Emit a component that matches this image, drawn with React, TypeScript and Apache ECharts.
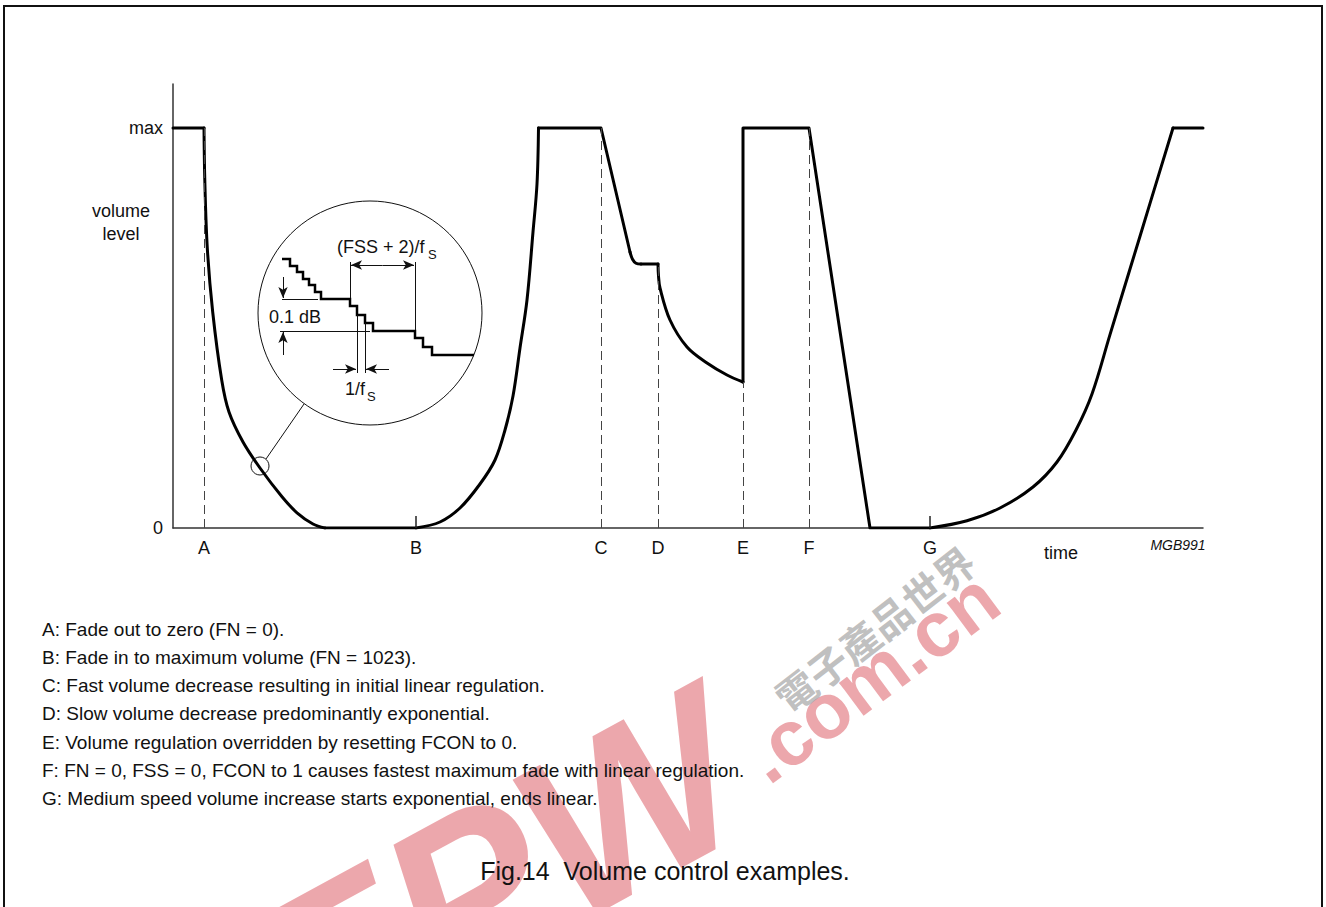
import React, { useEffect, useRef } from "react";
import * as echarts from "echarts";

const FONT = "'Liberation Sans', Arial, Helvetica, sans-serif";

// ---- main volume trace, [time, level] (level 1 = max, 0 = zero) ----
const holdMaxStart = [[0, 1], [3.1, 1]];
const fadeOutA = [[3.1, 1], [3.18, 0.87], [3.43, 0.7], [3.97, 0.54], [4.87, 0.37], [5.6, 0.29], [7.0, 0.215], [8.7, 0.15], [10.9, 0.078], [12.4, 0.038], [14.0, 0.01], [15.2, 0]];
const zeroHoldAB = [[15.2, 0], [24.3, 0]];
const fadeInB = [[24.3, 0], [26.7, 0.015], [28.7, 0.05], [30.7, 0.11], [32.2, 0.17], [33.2, 0.245], [34.0, 0.33], [34.7, 0.45], [35.4, 0.57], [36.0, 0.74], [36.4, 0.86], [36.55, 1]];
const holdMaxToC = [[36.55, 1], [42.8, 1], [45.7, 0.69]];
const kneeC = [[45.7, 0.69], [45.95, 0.672], [46.3, 0.662], [46.8, 0.66]];
const holdCD = [[46.8, 0.66], [48.5, 0.66]];
const decayD = [[48.5, 0.66], [48.55, 0.63], [48.7, 0.6], [49.7, 0.52], [51.4, 0.4525], [53.4, 0.4125], [55.4, 0.3825], [57.0, 0.365]];
const resetEFadeF = [[57.0, 0.365], [57.0, 1], [63.6, 1], [69.7, 0], [75.7, 0]];
const riseG = [[75.7, 0], [79.4, 0.018], [82.7, 0.05], [86.0, 0.1025], [88.4, 0.165], [90.3, 0.245], [91.9, 0.335], [93.7, 0.4835], [95.7, 0.6475], [97.7, 0.8115], [100.0, 1]];
const holdMaxEnd = [[100.0, 1], [103, 1]];

const traceSegments = [
  { data: holdMaxStart, smooth: false },
  { data: fadeOutA, smooth: true },
  { data: zeroHoldAB, smooth: false },
  { data: fadeInB, smooth: true },
  { data: holdMaxToC, smooth: false },
  { data: kneeC, smooth: true },
  { data: holdCD, smooth: false },
  { data: decayD, smooth: true },
  { data: resetEFadeF, smooth: false },
  { data: riseG, smooth: true },
  { data: holdMaxEnd, smooth: false },
];

// ---- event markers ----
const eventLetters = ["A", "B", "C", "D", "E", "F", "G"];
const eventTimes = [3.1, 24.3, 42.8, 48.5, 57.0, 63.6, 75.7];
const eventTops = [1, 0.03, 1, 0.66, 0.365, 1, 0.03];
const eventDashed = [true, false, true, true, true, true, false];

const yTickLabels: Record<string, string> = { "0": "0", "1": "max" };

const notes = [
  "A: Fade out to zero (FN = 0).",
  "B: Fade in to maximum volume (FN = 1023).",
  "C: Fast volume decrease resulting in initial linear regulation.",
  "D: Slow volume decrease predominantly exponential.",
  "E: Volume regulation overridden by resetting FCON to 0.",
  "F: FN = 0, FSS = 0, FCON to 1 causes fastest maximum fade with linear regulation.",
  "G: Medium speed volume increase starts exponential, ends linear.",
];

// ---- magnified inset (units of the inset box) ----
const insetStair = [[24, 58], [32, 58], [32, 65], [39, 65], [39, 71], [45, 71], [45, 78], [51, 78], [51, 84], [57, 84], [57, 91], [63, 91], [63, 98], [92, 98], [92, 105], [99, 105], [99, 114], [107, 114], [107, 122], [115, 122], [115, 130], [157, 130], [157, 137], [165, 137], [165, 146], [174, 146], [174, 154], [216, 154]];
const insetGuides = [
  [[92, 61], [92, 97]],
  [[157, 61], [157, 129]],
  [[24, 98], [60, 98]],
  [[22, 130], [112, 130]],
  [[99, 114], [99, 172]],
  [[107, 122], [107, 172]],
];
const insetArrows = [
  [[124.5, 64], [93, 64]],
  [[124.5, 64], [156, 64]],
  [[25, 76], [25, 97]],
  [[25, 154], [25, 131]],
  [[75, 168], [98, 168]],
  [[131, 168], [108, 168]],
];

function txt(text: string, x: number, y: number, size: number, align = "left", extra: any = {}) {
  return {
    type: "text",
    silent: true,
    style: {
      text,
      x,
      y,
      fill: "#111",
      font: `${extra.italic ? "italic " : ""}${size}px ${FONT}`,
      textAlign: align,
      textVerticalAlign: "middle",
    },
    z: 10,
  };
}

function mark(text: string, x: number, y: number, rot: number, font: string, fill: string, align = "left") {
  return {
    type: "text",
    silent: true,
    x,
    y,
    rotation: rot,
    z: 0,
    style: { text, x: 0, y: 0, font, fill, textAlign: align, textVerticalAlign: "bottom" },
  };
}

export default function App() {
  const ref = useRef<HTMLDivElement>(null);
  useEffect(() => {
    if (!ref.current) return;
    const chart = echarts.init(ref.current, null, { renderer: "svg" });

    const mainSeries = traceSegments.map((s) => ({
      type: "line",
      xAxisIndex: 0,
      yAxisIndex: 0,
      data: s.data,
      smooth: s.smooth ? 0.35 : false,
      symbol: "none",
      silent: true,
      z: 3,
      lineStyle: { color: "#000", width: 3, cap: "round", join: "round" },
    }));

    const markerSeries = {
      type: "line",
      xAxisIndex: 0,
      yAxisIndex: 0,
      data: [[0, 0]],
      symbol: "none",
      silent: true,
      z: 2,
      lineStyle: { width: 0 },
      markLine: {
        silent: true,
        animation: false,
        symbol: ["none", "none"],
        data: eventLetters.map((L, i) => [
          {
            coord: [eventTimes[i], 0],
            label: { show: true, position: "start", formatter: L, distance: 11, color: "#111", fontSize: 18, fontFamily: FONT },
            lineStyle: eventDashed[i]
              ? { type: [9, 5], color: "#444", width: 1 }
              : { type: "solid", color: "#222", width: 1.5 },
          },
          { coord: [eventTimes[i], eventTops[i]] },
        ]),
      },
    };

    const stairSeries = {
      type: "line",
      xAxisIndex: 1,
      yAxisIndex: 1,
      data: insetStair,
      symbol: "none",
      silent: true,
      z: 4,
      lineStyle: { color: "#000", width: 2.5, join: "miter" },
    };

    const insetAnnot = {
      type: "line",
      xAxisIndex: 1,
      yAxisIndex: 1,
      data: [[0, 0]],
      symbol: "none",
      silent: true,
      z: 4,
      lineStyle: { width: 0 },
      markLine: {
        silent: true,
        animation: false,
        symbol: ["none", "none"],
        label: { show: false },
        lineStyle: { type: "solid", color: "#111", width: 1 },
        data: [
          ...insetGuides.map((g) => [{ coord: g[0] }, { coord: g[1] }]),
          ...insetArrows.map((a) => [
            { coord: a[0], symbol: "none" },
            { coord: a[1], symbol: "arrow", symbolSize: [7, 11] },
          ]),
        ],
      },
    };

    const red = "rgba(226,120,128,0.65)";
    const graphic: any[] = [
      // watermark
      mark("EEPW", 781, 854, 0.5, `italic bold 230px ${FONT}`, red, "right"),
      mark(".com.cn", 776, 796, 0.64, `bold 78px ${FONT}`, red, "left"),
      mark("電子產品世界", 792, 718, 0.66, `bold 40px 'Noto Sans CJK TC'`, "rgba(150,150,150,0.6)", "left"),
      {
        type: "rect",
        silent: true,
        shape: { x: 4, y: 6, width: 1318, height: 940 },
        style: { fill: "none", stroke: "#111", lineWidth: 2 },
      },
      {
        type: "circle",
        silent: true,
        shape: { cx: 370, cy: 313, r: 112 },
        style: { fill: "none", stroke: "#111", lineWidth: 1 },
      },
      {
        type: "circle",
        silent: true,
        shape: { cx: 260, cy: 466, r: 9 },
        style: { fill: "none", stroke: "#111", lineWidth: 1 },
      },
      {
        type: "line",
        silent: true,
        shape: { x1: 266, y1: 459, x2: 304, y2: 404 },
        style: { stroke: "#111", lineWidth: 1 },
      },
      txt("volume", 121, 211, 18, "center"),
      txt("level", 121, 234, 18, "center"),
      txt("time", 1061, 553, 18, "center"),
      txt("MGB991", 1178, 545, 14, "center", { italic: true }),
      txt("(FSS + 2)/f", 337, 247, 18, "left"),
      txt("S", 428, 254, 13, "left"),
      txt("0.1 dB", 295, 317, 18, "center"),
      txt("1/f", 345, 389, 18, "left"),
      txt("S", 367, 396, 13, "left"),
      ...notes.map((n, i) => txt(n, 42, 629 + i * 28.3, 19, "left")),
      txt("Fig.14  Volume control examples.", 665, 871, 25, "center"),
    ];

    const option: any = {
      animation: false,
      backgroundColor: "#fff",
      grid: [
        { left: 173, top: 84, width: 1030, height: 444 },
        { left: 258, top: 201, width: 224, height: 224 },
      ],
      xAxis: [
        {
          type: "value",
          gridIndex: 0,
          min: 0,
          max: 103,
          axisLine: { show: true, onZero: false, lineStyle: { color: "#333", width: 1.5 } },
          axisTick: { show: false },
          axisLabel: { show: false },
          splitLine: { show: false },
        },
        { type: "value", gridIndex: 1, min: 0, max: 224, show: false },
      ],
      yAxis: [
        {
          type: "value",
          gridIndex: 0,
          min: 0,
          max: 1.11,
          interval: 1,
          axisLine: { show: true, onZero: false, lineStyle: { color: "#333", width: 1.5 } },
          axisTick: { show: false },
          splitLine: { show: false },
          axisLabel: {
            show: true,
            margin: 10,
            fontSize: 18,
            color: "#111",
            fontFamily: FONT,
            formatter: (v: number) => yTickLabels[String(v)] ?? "",
          },
        },
        { type: "value", gridIndex: 1, min: 0, max: 224, inverse: true, show: false },
      ],
      series: [markerSeries, ...mainSeries, stairSeries, insetAnnot],
      graphic,
    };
    chart.setOption(option);
    return () => chart.dispose();
  }, []);
  return (
    <div
      ref={ref}
      style={{ position: "fixed", left: 0, top: 0, width: 1326, height: 907, background: "#fff" }}
    />
  );
}
